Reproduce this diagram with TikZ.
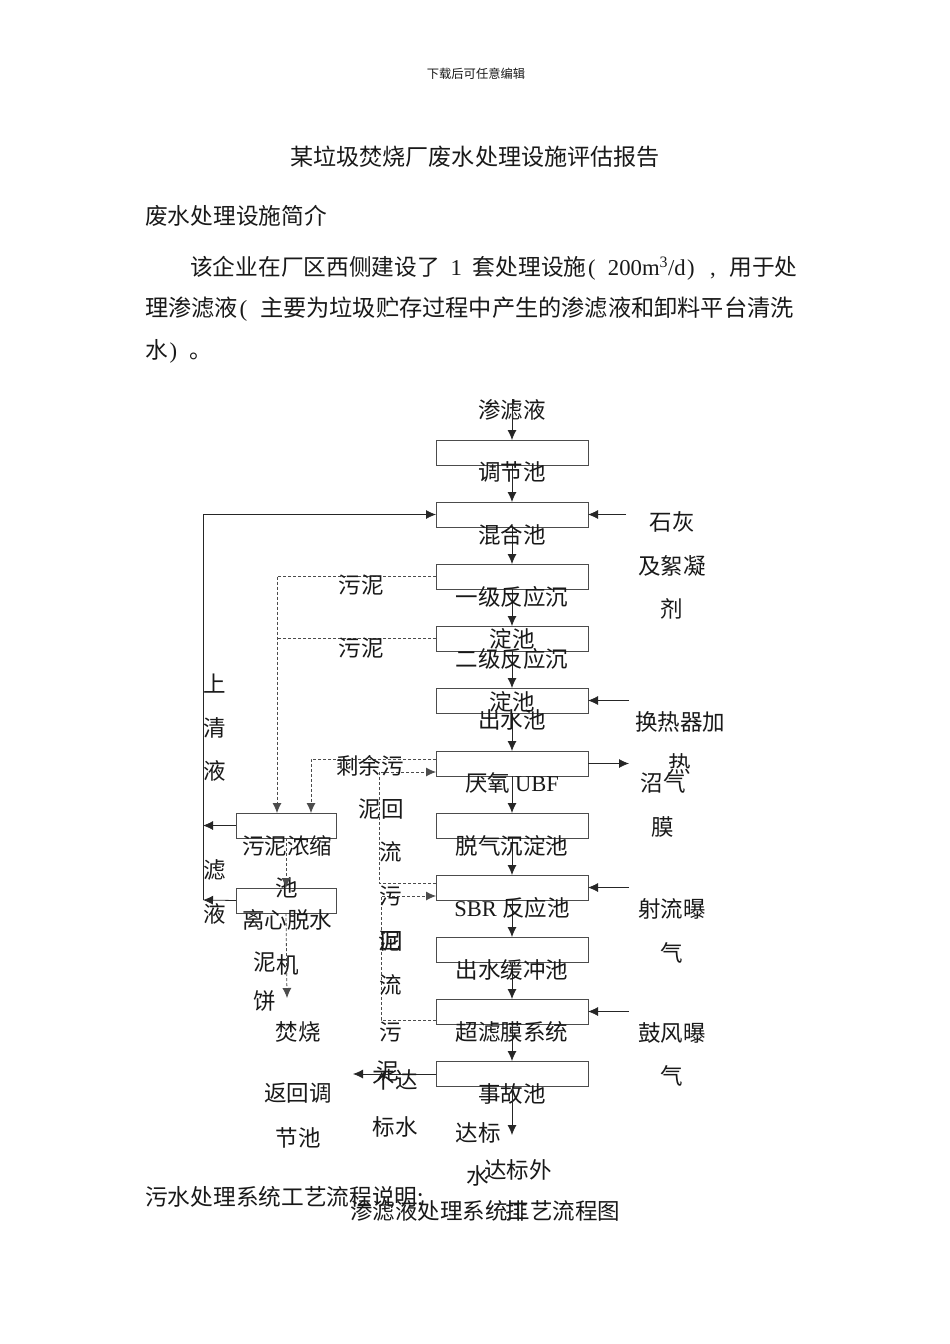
\documentclass[tikz,border=0pt]{standalone}
\usepackage{fontspec}
\setmainfont{Liberation Serif}
\newfontfamily\cjk{Noto Sans CJK SC}
\usetikzlibrary{arrows.meta}
\newcommand{\hw}[2]{\makebox[#2\dimexpr 11pt\relax]{\rmfamily #1}}
\begin{document}
\begin{tikzpicture}[x=1pt,y=-1pt,
  box/.style={draw=black!70, line width=0.9pt, minimum width=152pt, minimum height=25pt, inner sep=0pt, outer sep=0pt, anchor=north west},
  sbox/.style={draw=black!70, line width=0.9pt, minimum width=100pt, minimum height=25pt, inner sep=0pt, outer sep=0pt, anchor=north west},
  lbl/.style={font=\fontsize{22.5}{26}\selectfont\cjk, inner sep=0pt, text=black!90},
  para/.style={font=\fontsize{22.7}{26}\selectfont\cjk, inner sep=0pt, text=black!90, anchor=west},
  flow/.style={draw=black!85, line width=0.8pt, -{Latex[length=10pt,width=9pt]}},
  sflow/.style={draw=black!85, line width=0.8pt},
  dflow/.style={draw=black!70, line width=0.8pt, dash pattern=on 3pt off 2pt, -{Latex[length=10pt,width=9pt]}},
  dline/.style={draw=black!70, line width=0.8pt, dash pattern=on 3pt off 2pt},
]
\useasboundingbox (0,0) rectangle (950,1344);
\fill[white] (0,0) rectangle (950,1344);

% ---------- page text ----------
\node[lbl, font=\fontsize{12.3}{14}\selectfont\cjk] (hdr) at (476,74) {下载后可任意编辑};
\node[lbl, font=\fontsize{23.1}{26}\selectfont\cjk] (title) at (475,157) {某垃圾焚烧厂废水处理设施评估报告};
\node[para] (sec) at (145,216) {废水处理设施简介};
\node[para] (p1) at (190,268) {该企业在厂区西侧建设了\hw{1}{3}套处理设施\hw{(}{1}\hw{}{1}\hw{200m\textsuperscript{3}/d}{7}\hw{)}{1}\hw{,}{3}用于处};
\node[para, font=\fontsize{23.2}{26}\selectfont\cjk] (p2) at (145,309) {理渗滤液\hw{(}{1}\hw{}{1}主要为垃圾贮存过程中产生的渗滤液和卸料平台清洗};
\node[para] (p3) at (145,351) {水\hw{)}{1}\hw{}{1}。};

% ---------- main column ----------
\node[box] (b1) at (436,440) {};
\node[box] (b2) at (436,502) {};
\node[box] (b3) at (436,564) {};
\node[box] (b4) at (436,626) {};
\node[box] (b5) at (436,688) {};
\node[box] (b6) at (436,751) {};
\node[box] (b7) at (436,813) {};
\node[box] (b8) at (436,875) {};
\node[box] (b9) at (436,937) {};
\node[box] (b10) at (436,999) {};
\node[box] (b11) at (436,1061) {};

\node[lbl] (t0) at (512,410) {渗滤液};
\draw[flow] (t0.north) -- (b1.north);
\foreach \a/\b in {b1/b2,b2/b3,b3/b4,b4/b5,b5/b6,b6/b7,b7/b8,b8/b9,b9/b10,b10/b11}
  \draw[flow] (\a.south) -- (\b.north);

\node[lbl] (l1) at (512,472) {调节池};
\node[lbl] (l2) at (512,535) {混合池};
\node[lbl] (l3) at (512,597) {一级反应沉};
\node[lbl] (l3b) at (512,639) {淀池};
\node[lbl] (l4) at (512,659) {二级反应沉};
\node[lbl] (l4b) at (512,702) {淀池};
\node[lbl] (l5) at (512,720) {出水池};
\node[lbl] (l6) at (512,783) {厌氧 {\rmfamily UBF}};
\node[lbl] (l7) at (512,846) {脱气沉淀池};
\node[lbl] (l8) at (512,908) {{\rmfamily SBR} 反应池};
\node[lbl] (l9) at (512,970) {出水缓冲池};
\node[lbl] (l10) at (512,1032) {超滤膜系统};
\node[lbl] (l11) at (512,1094) {事故池};

% ---------- right side inputs / outputs ----------
\coordinate (r2) at (626,514.5);
\coordinate (r5) at (629,700.5);
\coordinate (r6) at (629,763.5);
\coordinate (r8) at (629,887.5);
\coordinate (r10) at (629,1011.5);
\draw[flow] (r2) -- (b2.east);
\draw[flow] (r5) -- (b5.east);
\draw[flow] (b6.east) -- (r6);
\draw[flow] (r8) -- (b8.east);
\draw[flow] (r10) -- (b10.east);

\node[lbl] (ra1) at (672,522) {石灰};
\node[lbl] (ra2) at (672,566) {及絮凝};
\node[lbl] (ra3) at (672,609) {剂};
\node[lbl] (rb1) at (680,722) {换热器加};
\node[lbl] (rb2) at (680,764) {热};
\node[lbl] (rc1) at (663,783) {沼气};
\node[lbl] (rc2) at (663,827) {膜};
\node[lbl] (rd1) at (672,909) {射流曝};
\node[lbl] (rd2) at (672,953) {气};
\node[lbl] (re1) at (672,1033) {鼓风曝};
\node[lbl] (re2) at (672,1076) {气};

% ---------- sludge treatment boxes ----------
\node[sbox] (s1) at (236,813) {};
\node[sbox] (s2) at (236,888) {};
\node[lbl] (sl1) at (287,846) {污泥浓缩};
\node[lbl] (sl1b) at (287,888) {池};
\node[lbl] (sl2) at (287,920) {离心脱水};
\node[lbl] (sl2a) at (265,962) {泥};
\node[lbl] (sl2b) at (288,965) {机};
\node[lbl] (sl2c) at (265,1001) {饼};
\node[lbl] (sl3) at (298,1032) {焚烧};
\coordinate (e1) at (287,998);
\draw[dflow] (s1.south) -- (s2.north);
\draw[dflow] (s2.south) -- (e1);

% supernatant / filtrate return
\coordinate (c514) at (203,514.5);
\coordinate (c826) at (203,825.5);
\coordinate (c900) at (203,900);
\draw[sflow] (c900) -- (c514);
\draw[flow] (c514) -- (b2.west);
\draw[flow] (s1.west) -- (c826);
\draw[flow] (s2.west) -- (c900);
\node[lbl] (u1) at (215,684) {上};
\node[lbl] (u2) at (215,728) {清};
\node[lbl] (u3) at (215,771) {液};
\node[lbl] (u4) at (215,870) {滤};
\node[lbl] (u5) at (215,914) {液};

% sludge from sedimentation tanks
\coordinate (k3) at (277,576.5);
\coordinate (k4) at (277,638.5);
\draw[dline] (b3.west) -- (k3);
\draw[dline] (b4.west) -- (k4);
\draw[dflow] (k3) -- (k3 |- s1.north);
\node[lbl] (w1) at (361,585) {污泥};
\node[lbl] (w2) at (361,648) {污泥};

% excess sludge from UBF
\coordinate (j6) at (436,759);
\coordinate (k6a) at (311,759);
\draw[dflow] (j6) -- (k6a) -- (k6a |- s1.north);

% sludge return SBR -> UBF
\coordinate (m8) at (436,883);
\coordinate (m8a) at (379,883);
\coordinate (m6a) at (379,772);
\coordinate (m6) at (436,772);
\draw[dflow] (m8) -- (m8a) -- (m6a) -- (m6);

% sludge return UF -> SBR
\coordinate (m10) at (436,1020);
\coordinate (m10a) at (381,1020);
\coordinate (m8c) at (381,896);
\coordinate (m8d) at (436,896);
\draw[dflow] (m10) -- (m10a) -- (m8c) -- (m8d);

\node[lbl] (x1) at (370,766) {剩余污};
\node[lbl] (x2) at (381,809) {泥回};
\node[lbl] (x3) at (391,852) {流};
\node[lbl] (y1) at (391,896) {污};
\node[lbl] (y2) at (390,941) {泥};
\node[lbl] (y2b) at (392,941) {回};
\node[lbl] (y3) at (391,985) {流};
\node[lbl] (y4) at (391,1032) {污};
\node[lbl] (y5) at (388,1071) {泥};

% unqualified water
\coordinate (ka) at (353,1074);
\draw[flow] (b11.west |- ka) -- (ka);
\node[lbl] (z1) at (395,1080) {不达};
\node[lbl] (z2) at (395,1127) {标水};
\node[lbl] (z3) at (298,1093) {返回调};
\node[lbl] (z4) at (298,1138) {节池};

% qualified water
\coordinate (kb) at (512,1135);
\draw[flow] (b11.south) -- (kb);
\node[lbl] (q1) at (478,1133) {达标};
\node[lbl] (q2) at (478,1176) {水};
\node[lbl] (q3) at (518,1170) {达标外};

% captions
\node[para] (cap1) at (145,1197) {污水处理系统工艺流程说明:};
\node[lbl] (cap2) at (485,1211) {渗滤液处理系统工艺流程图};
\node[lbl] (cap3) at (517,1211) {排};
\end{tikzpicture}
\end{document}
